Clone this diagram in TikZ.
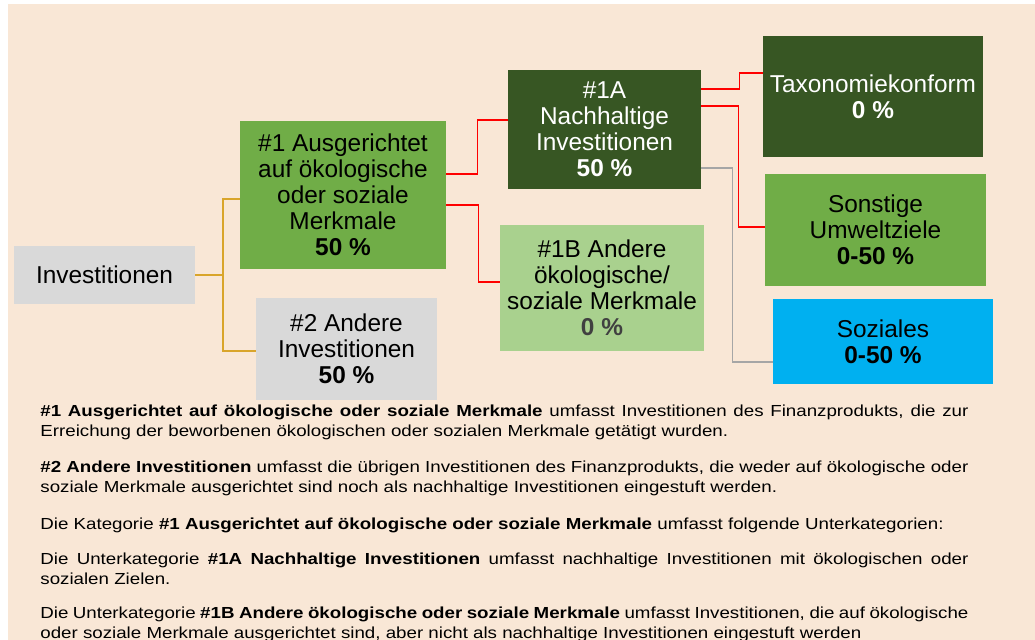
\documentclass[tikz,border=0pt]{standalone}
\usepackage{fontspec}
\setmainfont{Liberation Sans}
\newfontfamily\notefont[FakeStretch=1.17]{Liberation Sans}
\usetikzlibrary{calc}
\definecolor{bgbeige}{HTML}{F9E7D6}
\definecolor{boxgray}{HTML}{D9D9D9}
\definecolor{midgreen}{HTML}{70AD47}
\definecolor{darkgreen}{HTML}{375623}
\definecolor{lightgreen}{HTML}{A9D18E}
\definecolor{skyblue}{HTML}{00B0F0}
\definecolor{goldline}{HTML}{D9A52B}
\definecolor{greyline}{HTML}{A6A6A6}
\definecolor{pctgray}{HTML}{404040}
\tikzset{
	box/.style={inner sep=0pt, align=center, font=\fontsize{12.2}{13}\selectfont},
	note/.style={inner sep=0pt, anchor=base west, text width=464pt, align=justify, font=\notefont\fontsize{8}{10}\selectfont},
	link/.style={line width=0.6pt}
}

\begin{document}
\begin{tikzpicture}[x=0.5pt, y=-0.5pt]
			%%%%% START %%%%%
			
			\useasboundingbox (0, 0) rectangle (1035, 640);
			\fill[white] (0, 0) rectangle (1035, 640);
			\fill[bgbeige] (8, 4) rectangle (1035, 640);
			
			\node[box, fill=boxgray, minimum width=90.5pt, minimum height=29pt] (inv) at (104.5, 275) {Investitionen};
			
			\node[box, fill=midgreen, minimum width=103pt, minimum height=74pt] (aus) at (343, 195) {\#1 Ausgerichtet\\auf ökologische\\oder soziale\\Merkmale\\\textbf{50 \%}};
			\node[box, fill=boxgray, minimum width=90.5pt, minimum height=51pt] (andere) at (346.5, 349) {\#2 Andere\\Investitionen\\\textbf{50 \%}};
			
			\node[box, fill=darkgreen, text=white, minimum width=96.5pt, minimum height=59.5pt] (nach) at (604.5, 129.5) {\#1A\\Nachhaltige\\Investitionen\\\textbf{50 \%}};
			\node[box, fill=lightgreen, minimum width=102pt, minimum height=63pt] (merk) at (602, 288) {\#1B Andere\\ökologische/\\soziale Merkmale\\\textcolor{pctgray}{\textbf{0 \%}}};
			
			\node[box, fill=darkgreen, text=white, minimum width=110pt, minimum height=60.5pt] (taxo) at (873, 96.5) {Taxonomiekonform\\\textbf{0 \%}};
			\node[box, fill=midgreen, minimum width=110.5pt, minimum height=56pt] (umwelt) at (875.5, 230) {Sonstige\\Umweltziele\\\textbf{0-50 \%}};
			\node[box, fill=skyblue, minimum width=110pt, minimum height=42.5pt] (sozial) at (883, 341.5) {Soziales\\\textbf{0-50 \%}};
			
			% Verbindungen
			\coordinate (j0) at (223, 275);
			\draw[link, goldline] (inv.east) -- (j0) |- ([yshift=-2pt]aus.west);
			\draw[link, goldline] (j0) |- ([yshift=-1pt]andere.west);
			
			\draw[link, red] ([yshift=10.5pt]aus.east) -- ++(31, 0) |- ([yshift=4.75pt]nach.west);
			\draw[link, red] ([yshift=-5pt]aus.east) -- ++(32, 0) |- ([yshift=3pt]merk.west);
			
			\draw[link, red] ([yshift=20.25pt]nach.east) -- ++(38, 0) |- ([yshift=11.75pt]taxo.west);
			\draw[link, red] ([yshift=11.75pt]nach.east) -- ++(37, 0) |- ([yshift=1.5pt]umwelt.west);
			\draw[link, greyline] ([yshift=-19.25pt]nach.east) -- ++(31, 0) |- ([yshift=-10.25pt]sozial.west);
			
			% Erläuterungen
			\node[note] (p1) at (40, 417) {\textbf{\#1 Ausgerichtet auf ökologische oder soziale Merkmale} umfasst Investitionen des Finanzprodukts, die zur\linebreak Erreichung der beworbenen ökologischen oder sozialen Merkmale getätigt wurden.};
			\node[note] (p2) at (40, 473) {\textbf{\#2 Andere Investitionen} umfasst die übrigen Investitionen des Finanzprodukts, die weder auf ökologische oder\linebreak soziale Merkmale ausgerichtet sind noch als nachhaltige Investitionen eingestuft werden.};
			\node[note] (p3) at (40, 530) {Die Kategorie \textbf{\#1 Ausgerichtet auf ökologische oder soziale Merkmale} umfasst folgende Unterkategorien:};
			\node[note] (p4) at (40, 565) {Die Unterkategorie \textbf{\#1A Nachhaltige Investitionen} umfasst nachhaltige Investitionen mit ökologischen oder\linebreak sozialen Zielen.};
			\node[note] (p5) at (40, 619) {Die Unterkategorie \textbf{\#1B Andere ökologische oder soziale Merkmale} umfasst Investitionen, die auf ökologische\linebreak oder soziale Merkmale ausgerichtet sind, aber nicht als nachhaltige Investitionen eingestuft werden};
			
			%%%%% END %%%%%
		\end{tikzpicture}
\end{document}
